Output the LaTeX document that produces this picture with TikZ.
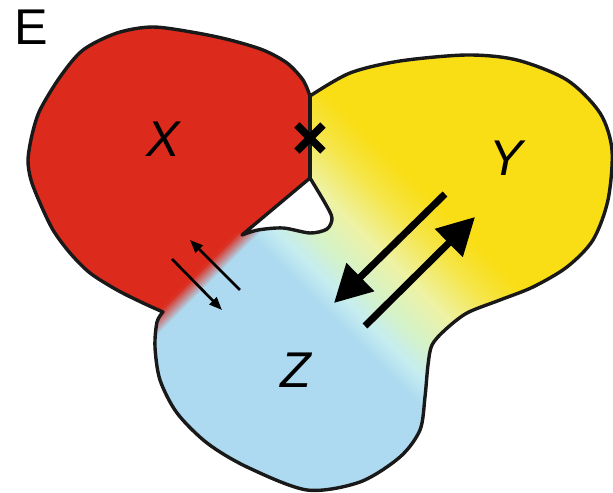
\documentclass[tikz,border=0pt]{standalone}
\usepackage{fontspec}
\setmainfont{Liberation Sans}
\usepackage{tikz}
\usetikzlibrary{arrows.meta}

\definecolor{redX}{HTML}{DC2A1C}
\definecolor{yelY}{HTML}{F9DE16}
\definecolor{midY}{HTML}{F5E548}
\definecolor{paleY}{HTML}{EEF2A4}
\definecolor{grnZ}{HTML}{D4F2C8}
\definecolor{cyaZ}{HTML}{C6EDF0}
\definecolor{bluZ}{HTML}{ADDAF0}

\newcommand{\blobpath}{plot[smooth] coordinates {(310,96) (350,73) (400,61) (467,55) (517,60) (567,80) (600,113) (612,150) (608,200) (593,240) (567,267) (533,287) (500,300) (467,313) (445,330) (432,345) (428,365) (425,397) (420,430) (400,457) (360,482) (307,490) (247,467) (207,443) (177,413) (160,380) (155,347) (157,322) (163,312)}
  -- plot[smooth] coordinates {(163,312) (143,303) (117,290) (90,273) (70,253) (53,230) (40,203) (31,180) (28,160) (32,135) (40,110) (60,77) (83,50) (117,33) (153,27) (197,33) (230,40) (263,50) (287,63) (303,80) (310,96)} -- cycle}
\newcommand{\holepath}{plot[smooth] coordinates {(310,178) (325,203) (332,218) (327,229) (310,233) (283,228) (258,230) (242,235)} -- cycle}

\begin{document}
\begin{tikzpicture}[
  x=0.1mm, y=-0.1mm,
  outline/.style={draw=black!90, line width=0.34mm, line join=round},
  lbl/.style={font=\fontsize{14.3}{16}\selectfont\itshape, inner sep=0pt},
  bigarrow/.style={line width=0.7mm, -{Triangle[length=3.7mm,width=3.8mm]}},
  thinarrow/.style={line width=0.27mm, -{Triangle[length=1.3mm,width=1.0mm]}},
]
\useasboundingbox (0,0) rectangle (613,493);
% colour field
\begin{scope}
  \clip \blobpath;
  \begin{scope}[transform canvas={shift={(300,300)}, rotate=45}]
    \fill[bluZ] (-900,-900) rectangle (11,900);
    \shade[left color=bluZ, right color=cyaZ] (10.6,-900) rectangle (31.8,900);
    \shade[left color=cyaZ, right color=grnZ] (31.6,-900) rectangle (56.6,900);
    \shade[left color=grnZ, right color=paleY] (56.4,-900) rectangle (91.9,900);
    \shade[left color=paleY, right color=midY] (91.7,-900) rectangle (130.8,900);
    \shade[left color=midY, right color=yelY] (130.6,-900) rectangle (162.6,900);
    \fill[yelY] (162.4,-900) rectangle (900,900);
  \end{scope}
  \begin{scope}
    \clip (0,0) rectangle (310,493);
    \begin{scope}[transform canvas={shift={(240,240)}, rotate=-45}]
      \fill[redX] (-900,-900) rectangle (-7,900);
      \shade[left color=redX, right color=bluZ] (-7.2,-900) rectangle (8.5,900);
    \end{scope}
    \fill[redX] (310,0) -- (310,178) -- (242,235) -- (150,150) -- cycle;
  \end{scope}
\end{scope}
% hole and outlines
\fill[white] \holepath;
\path[outline] \holepath;
\path[outline] \blobpath;
\draw[outline] (310,96) -- (310,178);
% blocked link
\draw[line width=0.75mm] (297,125) -- (323,151) (323,125) -- (297,151);
% labels
\node[lbl] (labX) at (163,139) {X};
\node[lbl] (labY) at (506,158) {Y};
\node[lbl] (labZ) at (296,370) {Z};
\node[lbl, font=\fontsize{14.3}{16}\selectfont] (labE) at (31,27) {E};
% exchange arrows
\coordinate (yz1) at (445,194);
\coordinate (yz2) at (334,303);
\coordinate (zy1) at (365,326);
\coordinate (zy2) at (475,217);
\draw[bigarrow] (yz1) -- (yz2);
\draw[bigarrow] (zy1) -- (zy2);
\coordinate (zx1) at (240,290);
\coordinate (zx2) at (190,240);
\coordinate (xz1) at (172,259);
\coordinate (xz2) at (222,310);
\draw[thinarrow] (zx1) -- (zx2);
\draw[thinarrow] (xz1) -- (xz2);
\end{tikzpicture}
\end{document}
